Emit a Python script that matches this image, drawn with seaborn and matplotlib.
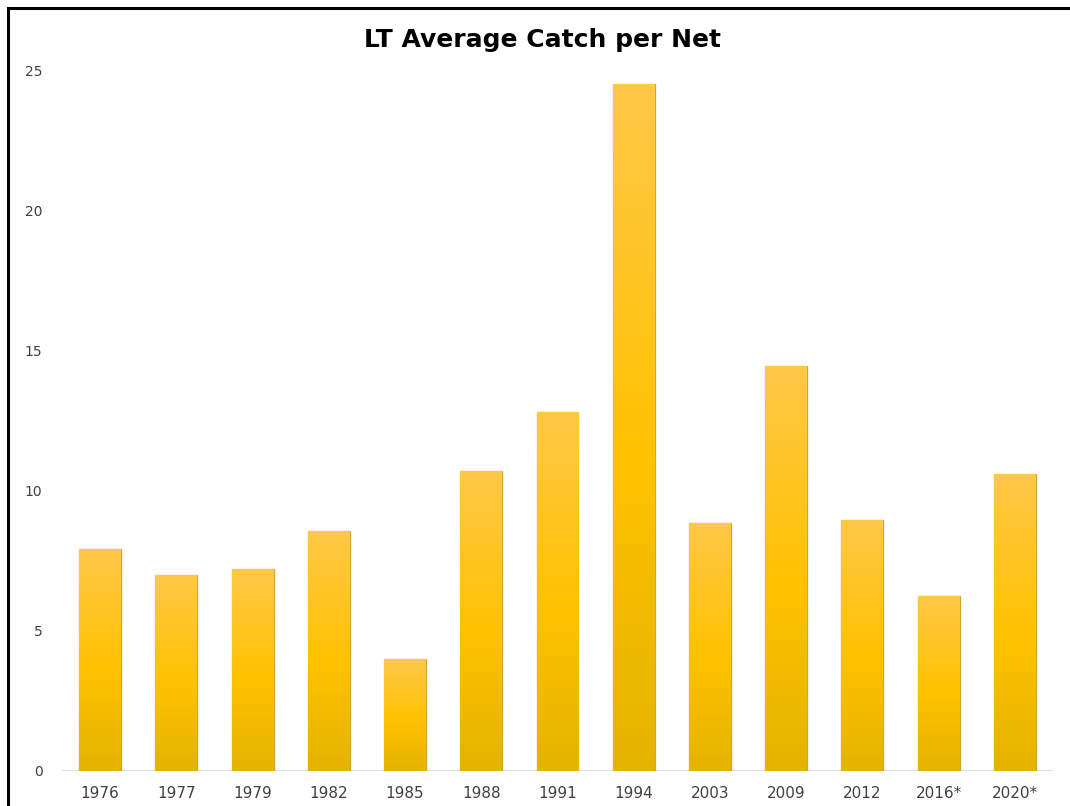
import numpy as np
import pandas as pd
import matplotlib
matplotlib.use("Agg")
import matplotlib.pyplot as plt
import seaborn as sns
from matplotlib.colors import LinearSegmentedColormap
from matplotlib.lines import Line2D

# ---- data ----
years = ["1976", "1977", "1979", "1982", "1985", "1988", "1991", "1994",
         "2003", "2009", "2012", "2016*", "2020*"]
catch = [7.9, 7.0, 7.2, 8.55, 4.0, 10.7, 12.8, 24.5, 8.85, 14.45, 8.95, 6.25, 10.6]
y_ticks = [0, 5, 10, 15, 20, 25]
title = "LT Average Catch per Net"

sns.set_theme(style="white")
plt.rcParams['font.family'] = ['DejaVu Sans']

W, H = 1070, 806
fig = plt.figure(figsize=(W / 100, H / 100), dpi=100)
fig.patch.set_facecolor("white")
ax = fig.add_axes([62 / W, 1 - 771 / H, (1053 - 62) / W, (771 - 70) / H])

df = pd.DataFrame({"year": years, "catch": catch})
sns.barplot(data=df, x="year", y="catch", color="#FFC000", saturation=1,
            width=0.55, edgecolor="#D6A62A", linewidth=0.9, ax=ax, zorder=3)

# vertical gradient fill clipped to each bar
cmap = LinearSegmentedColormap.from_list(
    "gold", [(0.0, "#E4B300"), (0.45, "#FFC200"), (1.0, "#FFC848")])
grad = np.linspace(0, 1, 256).reshape(-1, 1)
for patch in list(ax.patches):
    x0, y0 = patch.get_x(), patch.get_y()
    w, h = patch.get_width(), patch.get_height()
    im = ax.imshow(grad, extent=[x0, x0 + w, y0, y0 + h], origin="lower",
                   aspect="auto", cmap=cmap, zorder=3.5, interpolation="bilinear")
    im.set_clip_path(patch)

ax.set_xlim(-0.5, len(years) - 0.5)
ax.set_ylim(0, 25)
ax.set_yticks(y_ticks)
ax.set_xlabel("")
ax.set_ylabel("")
for s in ax.spines.values():
    s.set_visible(False)
ax.axhline(0, color="#D9D9D9", lw=1.2, zorder=2)
ax.tick_params(axis="y", length=0, pad=14, labelsize=10, labelcolor="#404040")
ax.tick_params(axis="x", length=0, pad=11, labelsize=11, labelcolor="#404040")
ax.grid(False)

fig.text(543 / W, 1 - 40 / H, title, ha="center", va="center",
         fontsize=18, fontweight="bold", color="black")

# partial frame (top and left) as in the reference
fig.add_artist(Line2D([1, 7.5 / W, 7.5 / W], [1 - 7.5 / H, 1 - 7.5 / H, 0],
                      color="black", lw=2.2, solid_joinstyle="miter",
                      transform=fig.transFigure))

fig.savefig("out.png", dpi=100)
